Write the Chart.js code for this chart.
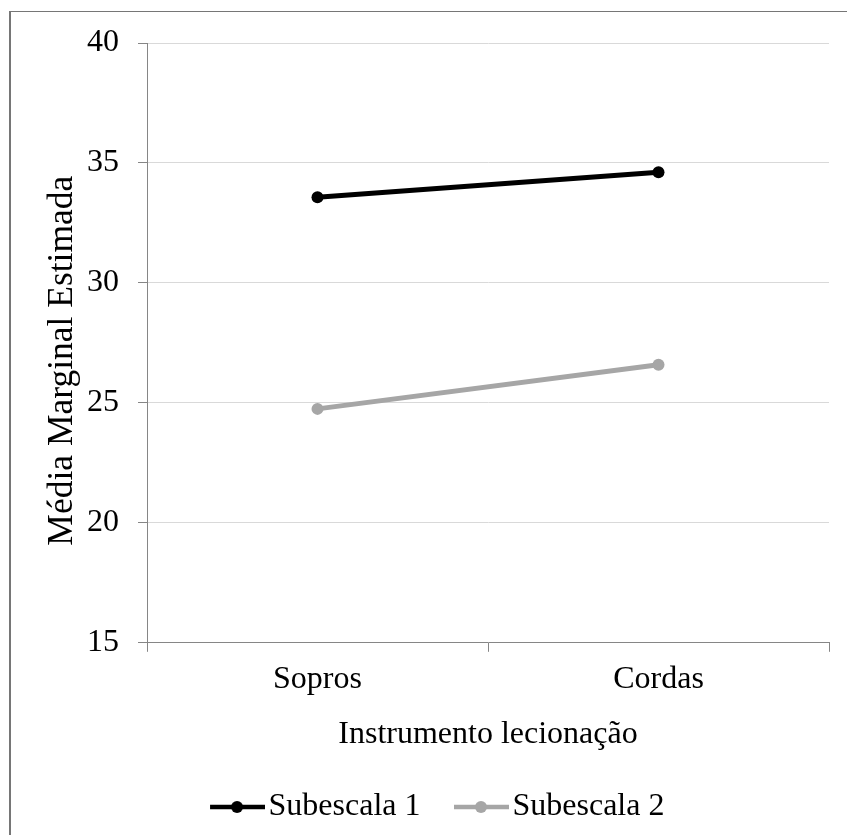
<!DOCTYPE html>
<html>
<head>
<meta charset="utf-8">
<script src="https://cdn.jsdelivr.net/npm/chart.js@4"></script>
<style>
  html, body { margin: 0; padding: 0; background: #fff; overflow: hidden; }
  #wrap { position: relative; width: 847px; height: 835px; }
  #frame {
    position: absolute; left: 9px; top: 11px; width: 900px; height: 900px;
    border-left: 2px solid #767676; border-top: 1px solid #767676;
  }
  #chart { position: absolute; left: 0; top: 0; }
</style>
</head>
<body>
<div id="wrap">
  <div id="frame"></div>
  <canvas id="chart" width="847" height="835"></canvas>
</div>
<script>
// Chart data
const categories = ['Sopros', 'Cordas'];
const subescala1 = [33.57, 34.61];
const subescala2 = [24.75, 26.59];
const yTicks = [15, 20, 25, 30, 35, 40];

const seriesNames = ['Subescala 1', 'Subescala 2'];
const seriesColors = ['#000000', '#a6a6a6'];

const serif = "'Liberation Serif', 'Times New Roman', serif";
const axisGray = '#868686';

// Legend symbol: a short line with a dot, drawn on a small canvas
function legendSymbol(color) {
  const c = document.createElement('canvas');
  c.width = 91;
  c.height = 16;
  const g = c.getContext('2d');
  g.strokeStyle = color;
  g.lineWidth = 4.5;
  g.beginPath();
  g.moveTo(36, 8);
  g.lineTo(91, 8);
  g.stroke();
  g.fillStyle = color;
  g.beginPath();
  g.arc(63, 8, 6, 0, Math.PI * 2);
  g.fill();
  return c;
}

const symbols = seriesColors.map(legendSymbol);

new Chart(document.getElementById('chart'), {
  type: 'line',
  data: {
    labels: categories,
    datasets: [
      {
        label: seriesNames[0],
        data: subescala1,
        borderColor: seriesColors[0],
        backgroundColor: seriesColors[0],
        borderWidth: 5,
        pointRadius: 6,
        pointBorderWidth: 0
      },
      {
        label: seriesNames[1],
        data: subescala2,
        borderColor: seriesColors[1],
        backgroundColor: seriesColors[1],
        borderWidth: 5,
        pointRadius: 6,
        pointBorderWidth: 0
      }
    ]
  },
  options: {
    responsive: false,
    animation: false,
    layout: {
      padding: { left: 22, right: 18, top: 43, bottom: 2 }
    },
    scales: {
      x: {
        offset: true,
        grid: {
          offset: true,
          drawOnChartArea: false,
          tickLength: 9,
          tickColor: axisGray
        },
        border: { color: axisGray, width: 1 },
        ticks: {
          color: '#000',
          padding: 8.2,
          font: { family: serif, size: 32 }
        },
        title: {
          display: true,
          text: 'Instrumento lecionação',
          color: '#000',
          padding: { top: 8.3, bottom: 27.7 },
          font: { family: serif, size: 32 }
        }
      },
      y: {
        min: yTicks[0],
        max: yTicks[yTicks.length - 1],
        afterFit: (scale) => { scale.width = 125; },
        afterBuildTicks: (scale) => {
          scale.ticks = yTicks.map(v => ({ value: v }));
        },
        grid: {
          color: '#d9d9d9',
          tickLength: 9,
          tickColor: axisGray
        },
        border: { color: axisGray, width: 1 },
        ticks: {
          color: '#000',
          padding: 19,
          font: { family: serif, size: 32 }
        },
        title: {
          display: true,
          // trailing spaces nudge the centred title down, as in the original
          text: 'Média Marginal Estimada    ',
          color: '#000',
          padding: { top: 19.7, bottom: 0 },
          font: { family: serif, size: 35.5 }
        }
      }
    },
    plugins: {
      tooltip: { enabled: false },
      legend: {
        position: 'bottom',
        labels: {
          usePointStyle: true,
          pointStyleWidth: 66,
          padding: 10,
          color: '#000',
          font: { family: serif, size: 32 },
          generateLabels: (chart) => {
            const items = Chart.defaults.plugins.legend.labels.generateLabels(chart);
            items.forEach((item, i) => { item.pointStyle = symbols[i]; });
            return items;
          }
        }
      }
    }
  }
});
</script>
</body>
</html>
